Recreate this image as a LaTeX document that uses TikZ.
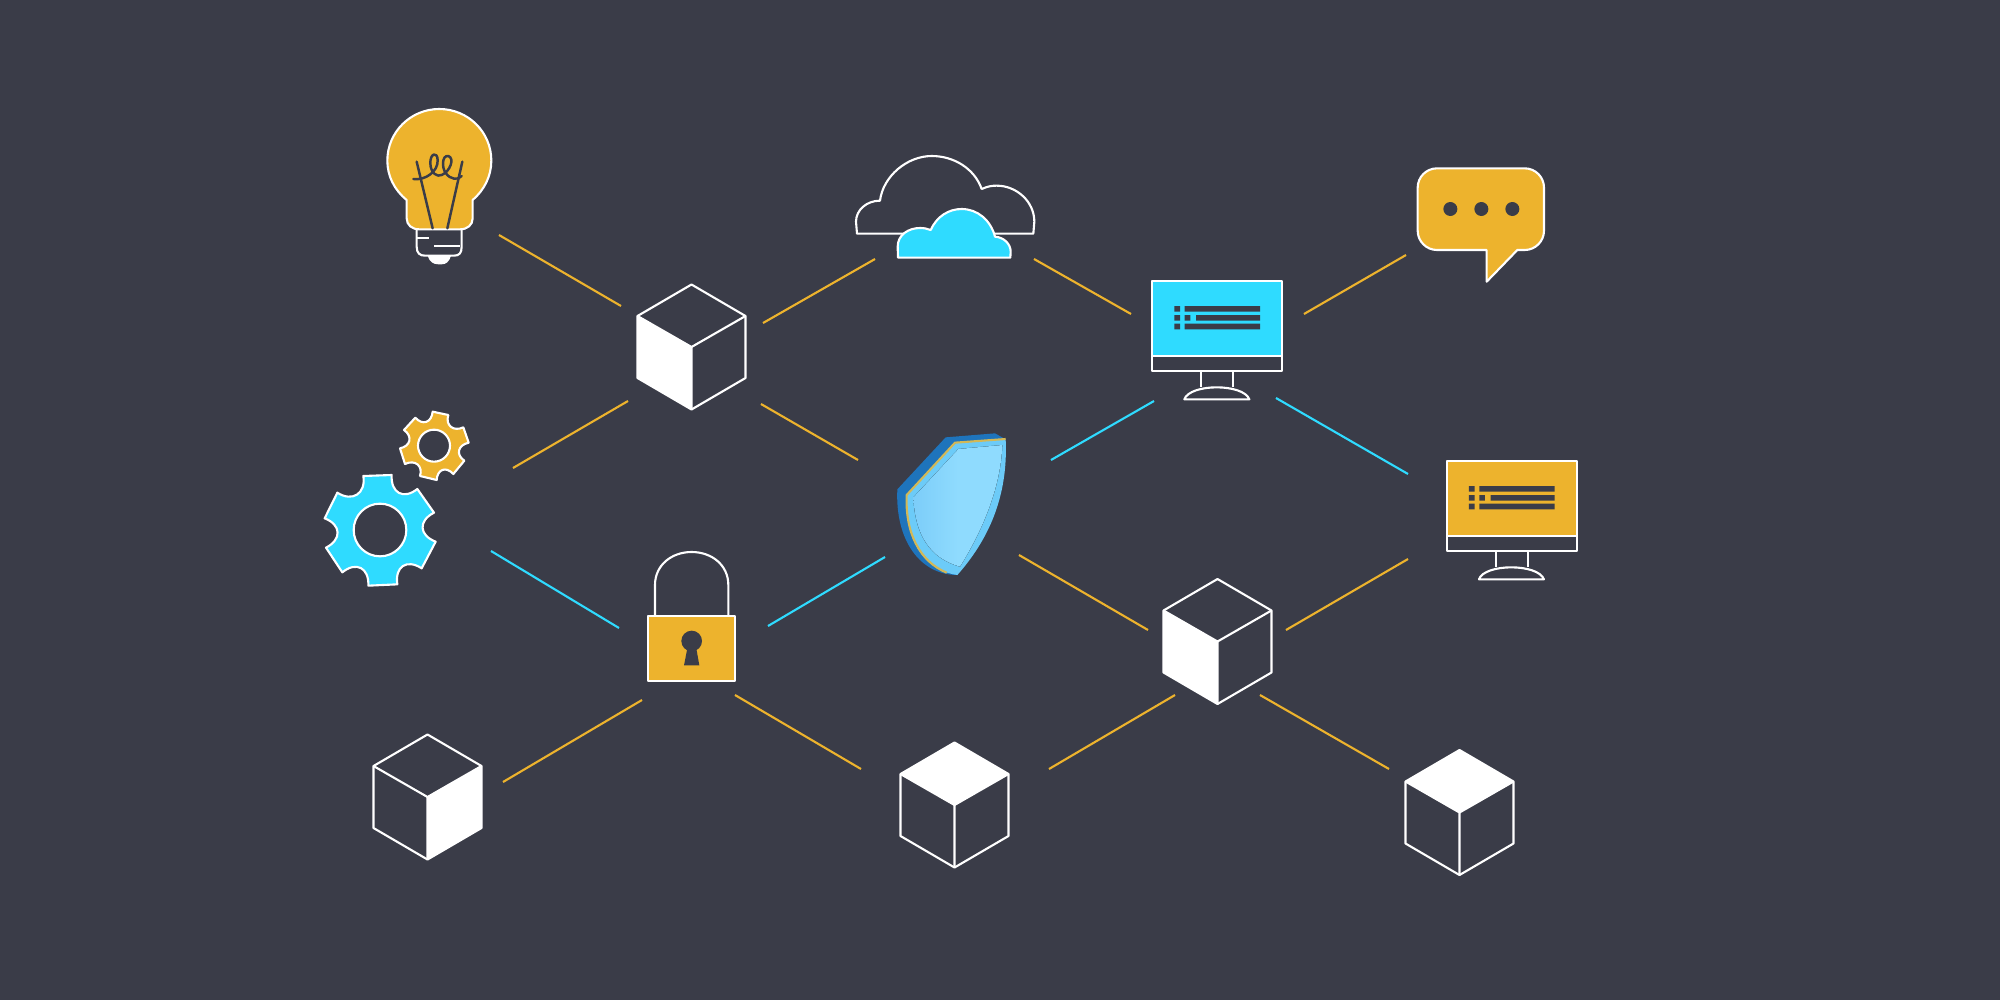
\documentclass[tikz,border=0pt]{standalone}
\definecolor{bg}{HTML}{3A3C48}
\definecolor{amber}{HTML}{EDB32D}
\definecolor{sky}{HTML}{2FDBFF}
\definecolor{shdark}{HTML}{1E74BC}
\definecolor{shmid}{HTML}{6CCBF8}
\definecolor{shlight}{HTML}{8FDBFE}
\definecolor{shleft}{HTML}{7CCDF9}
\tikzset{
  wl/.style={draw=white,line width=0.6pt,line join=round},
  link/.style={line width=0.6pt},
  linkA/.style={link,draw=amber},
  linkS/.style={link,draw=sky},
  inkline/.style={draw=bg,line width=0.7pt,line cap=round,line join=round},
  pics/cube/.style={code={
    \ifcase#1\relax
      \fill[white] (-54,-31) -- (0,0) -- (0,62.5) -- (-54,31) -- cycle;
    \or
      \fill[white] (54,-31) -- (0,0) -- (0,62.5) -- (54,31) -- cycle;
    \or
      \fill[white] (-54,-31) -- (0,-62.5) -- (54,-31) -- (0,0) -- cycle;
    \fi
    \draw[wl] (0,-62.5) -- (54,-31) -- (54,31) -- (0,62.5) -- (-54,31) -- (-54,-31) -- cycle;
    \draw[wl] (-54,-31) -- (0,0) -- (54,-31) (0,0) -- (0,62.5);
  }},
  pics/monitor/.style={code={
    \begin{scope}[scale=0.33333]
      \fill[#1] (37,33) rectangle (427,258);
      \draw[wl] (37,33) rectangle (427,303) (37,258) -- (427,258);
      \draw[wl] (183,303) -- (183,352) (280,303) -- (280,352);
      \draw[wl] (133,388) .. controls (150,340) and (310,340) .. (328,388) -- cycle;
      \fill[bg] (103,108) rectangle (120,125) (134,108) rectangle (360,125)
                (103,135) rectangle (120,152) (134,135) rectangle (151,152)
                (168,135) rectangle (360,152)
                (103,161) rectangle (120,178) (134,161) rectangle (360,178);
    \end{scope}
  }}
}
\begin{document}
\begin{tikzpicture}[x=0.01cm,y=-0.01cm]
\fill[bg] (0,0) rectangle (2000,1000);
\useasboundingbox (0,0) rectangle (2000,1000);

% connector ends
\foreach \n/\x/\y in {
 a1/499/235,a2/621/306, b1/763/323,b2/875/259, c1/1034/259,c2/1131/314,
 d1/1304/314,d2/1406/255, e1/513/468,e2/628/401, f1/761/404,f2/858/460,
 g1/1051/460,g2/1154/401, h1/1276/398,h2/1408/474, i1/491/551,i2/619/628,
 j1/768/626,j2/885/557, k1/1019/555,k2/1148/630, l1/1286/630,l2/1408/559,
 m1/503/782,m2/642/700, n1/735/695,n2/861/769, o1/1049/769,o2/1175/695,
 p1/1260/695,p2/1389/769}{\coordinate (\n) at (\x,\y);}

\draw[linkA] (a1)--(a2);
\draw[linkA] (b1)--(b2);
\draw[linkA] (c1)--(c2);
\draw[linkA] (d1)--(d2);
\draw[linkA] (e1)--(e2);
\draw[linkA] (f1)--(f2);
\draw[linkS] (g1)--(g2);
\draw[linkS] (h1)--(h2);
\draw[linkS] (i1)--(i2);
\draw[linkS] (j1)--(j2);
\draw[linkA] (k1)--(k2);
\draw[linkA] (l1)--(l2);
\draw[linkA] (m1)--(m2);
\draw[linkA] (n1)--(n2);
\draw[linkA] (o1)--(o2);
\draw[linkA] (p1)--(p2);

% cubes
\pic (cubeA) at (691.5,347) {cube=0};
\pic (cubeB) at (1217.5,641.5) {cube=0};
\pic (cubeC) at (427.5,797) {cube=1};
\pic (cubeD) at (954.5,805) {cube=2};
\pic (cubeE) at (1459.5,812.5) {cube=2};

% monitors
\pic (monA) at (1140,270) {monitor=sky};
\pic (monB) at (1434.6,450) {monitor=amber};

% bulb
\begin{scope}[shift={(360,90)},scale=0.33333]
  \draw[wl] (170,415) -- (170,470) .. controls (170,490) and (180,497) .. (195,497) -- (282,497) .. controls (297,497) and (305,490) .. (305,470) -- (305,415);
  \fill[white] (203,497) .. controls (208,515) and (220,523) .. (235,523) -- (245,523) .. controls (258,523) and (268,515) .. (273,497) -- cycle;
  \draw[wl] (172,445) -- (208,445) (222,468) -- (300,468);
  \draw[wl,fill=amber] (140,330) .. controls (103,300) and (82,258) .. (82,212)
     .. controls (82,126) and (152,57) .. (238,57)
     .. controls (324,57) and (394,126) .. (394,212)
     .. controls (394,258) and (373,300) .. (338,330)
     -- (338,385) .. controls (338,405) and (322,418) .. (300,418)
     -- (178,418) .. controls (156,418) and (140,405) .. (140,385) -- cycle;
  \draw[inkline] (170,215) -- (218,415) (307,215) -- (262,415);
  \draw[inkline] (160,267) .. controls (195,272) and (235,245) .. (233,210)
     .. controls (232,183) and (210,190) .. (211,220)
     .. controls (212,250) and (232,262) .. (245,255)
     .. controls (270,245) and (285,205) .. (265,198)
     .. controls (245,195) and (245,235) .. (258,250)
     .. controls (270,268) and (295,272) .. (305,258);
\end{scope}

% gears
\begin{scope}[shift={(310,395)},scale=0.33333]
  \draw[wl,fill=sky,even odd rule] (160,243) -- (245,240) .. controls (242,294) and (280.4,315) .. (322,282)
    -- (372,353) .. controls (324.3,377.5) and (326.7,420.5) .. (377,440)
    -- (335,520) .. controls (290.3,490.8) and (254.1,514.6) .. (262,568)
    -- (175,572) .. controls (177.4,518.2) and (138.6,498.2) .. (97,532)
    -- (48,458) .. controls (96,433.3) and (94,389.3) .. (44,370)
    -- (82,293) .. controls (127.2,322.1) and (168.2,295.9) .. (160,243) -- cycle
    (210,405) circle (79);
  \draw[wl,fill=amber,even odd rule] (368,50) -- (415,60) .. controls (405,90.7) and (430,111.1) .. (460,97)
    -- (476,143) .. controls (443.5,150.2) and (436.5,179) .. (463,197)
    -- (430,237) .. controls (407.8,213.1) and (382.2,222.3) .. (380,255)
    -- (330,243) .. controls (339.7,212.4) and (315.1,192.6) .. (285,207)
    -- (270,160) .. controls (302.2,153.3) and (308.6,123.7) .. (282,105)
    -- (316,68) .. controls (337.5,92.3) and (364.9,82.9) .. (368,50) -- cycle
    (372,152) circle (48);
\end{scope}

% cloud
\begin{scope}[shift={(840,140)},scale=0.33333]
  \draw[wl] (51,281) -- (48,245) .. controls (48,210) and (80,182) .. (120,182)
    .. controls (129,109) and (201,48) .. (275,48)
    .. controls (341,48) and (403,85) .. (425,147)
    .. controls (445,138) and (458,137) .. (470,137)
    .. controls (530,137) and (583,185) .. (583,245) -- (580,281) -- cycle;
  \draw[wl,fill=sky] (174,353) -- (173,320) .. controls (173,285) and (205,264) .. (240,264)
    .. controls (252,264) and (262,266) .. (272,270)
    .. controls (290,230) and (325,207) .. (365,207)
    .. controls (412,207) and (452,240) .. (465,290)
    .. controls (492,292) and (512,312) .. (512,335) -- (511,353) -- cycle;
\end{scope}

% bubble
\begin{scope}[shift={(1400,150)},scale=0.33333]
  \draw[wl,fill=amber] (111,55) -- (374,55) .. controls (406,55) and (432,81) .. (432,113)
    -- (432,242) .. controls (432,274) and (406,300) .. (374,300) -- (352,300)
    -- (260,395) -- (260,300) -- (111,300)
    .. controls (79,300) and (53,274) .. (53,242) -- (53,113)
    .. controls (53,81) and (79,55) .. (111,55) -- cycle;
  \fill[bg] (151,177) circle (21) (244,177) circle (21) (337,177) circle (21);
\end{scope}

% lock
\begin{scope}[shift={(630,540)},scale=0.33333]
  \draw[wl] (75,227) -- (75,135) .. controls (75,75) and (125,36) .. (185,36)
     .. controls (245,36) and (295,75) .. (295,135) -- (295,227);
  \draw[wl,fill=amber] (54,227) rectangle (316,423);
  \fill[bg] (185,303) circle (31);
  \fill[bg] (173,320) -- (198,320) -- (208,376) -- (162,376) -- cycle;
\end{scope}

% shield
\begin{scope}[shift={(880,420)},scale=0.33333]
  \fill[shdark] (52,208) -- (197,52) -- (345,40) -- (375,57) -- (300,300) -- (232,465)
     .. controls (120,465) and (45,360) .. (52,208) -- cycle;
  \fill[shmid] (80,225) -- (225,70) -- (377,58)
     .. controls (385,230) and (325,360) .. (232,465)
     .. controls (130,450) and (75,360) .. (80,225) -- cycle;
  \draw[amber!80!shmid,line width=0.6pt,line join=round] (200,458) .. controls (120,425) and (75,340) .. (80,225) -- (225,68) -- (377,57);
  \fill[left color=shleft,right color=shlight,middle color=shlight] (100,232) -- (235,87) -- (367,75)
     .. controls (362,210) and (302,340) .. (240,440)
     .. controls (150,415) and (105,345) .. (100,232) -- cycle;
\end{scope}
\end{tikzpicture}
\end{document}
